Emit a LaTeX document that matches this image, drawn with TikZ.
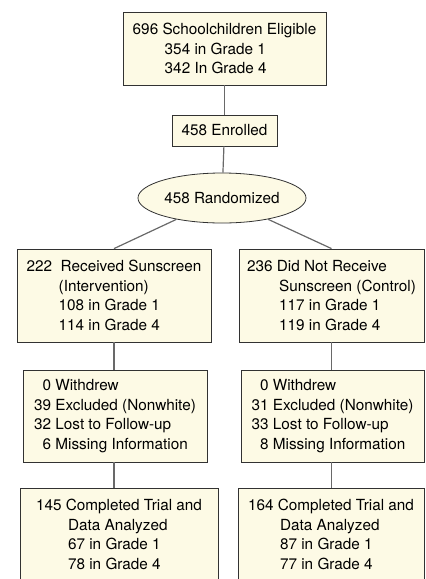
\documentclass[tikz,border=0pt]{standalone}
\usepackage{fontspec}
\setmainfont{TeX Gyre Heros}
\usetikzlibrary{shapes.geometric}
\definecolor{boxfill}{RGB}{253,250,229}
\definecolor{boxline}{RGB}{50,50,50}
\definecolor{linkgray}{RGB}{105,105,105}
\newcommand{\ind}{\hspace*{32pt}}
\tikzset{
  box/.style={draw=boxline, fill=boxfill, line width=0.8pt, inner sep=0pt,
    align=left, font=\fontsize{15.3}{19.5}\selectfont},
  link/.style={draw=linkgray, line width=1.2pt}
}
\begin{document}
\begin{tikzpicture}[x=1pt,y=-1pt]
  \useasboundingbox (0,0) rectangle (426,579);
  % screening and enrolment
  \node[box, minimum width=203pt, minimum height=73pt] (elig) at (224.5,48.5)
    {696 Schoolchildren Eligible\\\ind 354 in Grade 1\\\ind 342 In Grade 4};
  \node[box, minimum width=105pt, minimum height=31pt] (enr) at (224.5,130.5) {458 Enrolled};
  \node[box, ellipse, minimum width=168pt, minimum height=50pt] (rand) at (222,198) {458 Randomized};
  % the two arms
  \node[box, minimum width=194pt, minimum height=93pt] (int) at (114,295.5)
    {222\ \ Received Sunscreen\\\ind(Intervention)\\\ind 108 in Grade 1\\\ind 114 in Grade 4};
  \node[box, minimum width=185pt, minimum height=93pt] (ctl) at (331.5,295.5)
    {236 Did Not Receive\\\ind Sunscreen (Control)\\\ind 117 in Grade 1\\\ind 119 in Grade 4};
  \node[box, minimum width=184pt, minimum height=92pt] (lossI) at (115,416)
    {\begin{tabular}{@{}r@{\ }l@{}}0 & Withdrew\\39 & Excluded (Nonwhite)\\32 & Lost to Follow-up\\6 & Missing Information\end{tabular}};
  \node[box, minimum width=183pt, minimum height=92pt] (lossC) at (332.5,416)
    {\begin{tabular}{@{}r@{\ }l@{}}0 & Withdrew\\31 & Excluded (Nonwhite)\\33 & Lost to Follow-up\\8 & Missing Information\end{tabular}};
  \node[box, minimum width=198pt, minimum height=93pt] (anaI) at (119,534.5)
    {145 Completed Trial and\\\ind Data Analyzed\\\ind 67 in Grade 1\\\ind 78 in Grade 4};
  \node[box, minimum width=186pt, minimum height=93pt] (anaC) at (331,534.5)
    {164 Completed Trial and\\\ind Data Analyzed\\\ind 87 in Grade 1\\\ind 77 in Grade 4};
  % connectors
  \draw[link] (elig) -- (enr);
  \draw[link] (enr) -- (rand);
  \draw[link] (rand) -- (int.north);
  \draw[link] (rand) -- (ctl.north);
  \draw[link] (int.south) -- (int.south |- lossI.north);
  \draw[link] (int.south |- lossI.south) -- (int.south |- anaI.north);
  \draw[link] (ctl.south) -- (ctl.south |- lossC.north);
  \draw[link] (ctl.south |- lossC.south) -- (ctl.south |- anaC.north);
\end{tikzpicture}
\end{document}
